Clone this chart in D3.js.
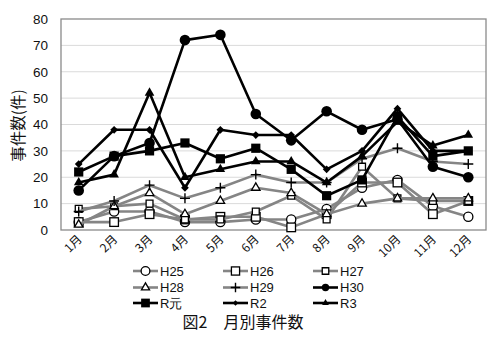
<!DOCTYPE html>
<html>
<head>
<meta charset="utf-8">
<script src="https://cdn.jsdelivr.net/npm/d3@7"></script>
<style>
  body { margin: 0; background: #fff; }
  svg { display: block; }
</style>
</head>
<body>
<svg id="chart" width="500" height="338"></svg>
<script>
// Monthly case counts by year (H25 … R3)
const months = ["1月","2月","3月","4月","5月","6月","7月","8月","9月","10月","11月","12月"];
const yTicks = [0, 10, 20, 30, 40, 50, 60, 70, 80];

const h25 = [3, 7, 7, 3, 3, 4, 4, 8, 16, 19, 9, 5];
const h26 = [3, 3, 6, 4, 5, 5, 1, 6, 18, 18, 6, 11];
const h27 = [8, 9, 10, 4, 4, 7, 13, 4, 24, 12, 11, 11];
const h28 = [2, 9, 14, 6, 11, 16, 14, 6, 10, 12, 12, 12];
const h29 = [7, 11, 17, 12, 16, 21, 18, 18, 27, 31, 26, 25];
const h30 = [15, 28, 33, 72, 74, 44, 34, 45, 38, 42, 24, 20];
const rGan = [22, 28, 30, 33, 27, 31, 23, 13, 19, 43, 28, 30];
const r2 = [25, 38, 38, 16, 38, 36, 36, 23, 30, 46, 30, 30];
const r3 = [18, 21, 52, 20, 23, 26, 26, 18, 28, 41, 32, 36];

const seriesNames = ["H25", "H26", "H27", "H28", "H29", "H30", "R元", "R2", "R3"];
const seriesValues = [h25, h26, h27, h28, h29, h30, rGan, r2, r3];

const GRAY = "#858585";
const BLACK = "#000";
const style = [
  { color: GRAY, marker: "circleOpen" },
  { color: GRAY, marker: "squareOpen" },
  { color: GRAY, marker: "diamondOpen" },
  { color: GRAY, marker: "triangleOpen" },
  { color: GRAY, marker: "plus" },
  { color: BLACK, marker: "circleFilled" },
  { color: BLACK, marker: "squareFilled" },
  { color: BLACK, marker: "diamondFilled" },
  { color: BLACK, marker: "triangleFilled" }
];

const svg = d3.select("#chart");
const plot = { left: 61, right: 486, top: 19, bottom: 230 };

const x = d3.scaleBand().domain(months).range([plot.left, plot.right]);
const y = d3.scaleLinear().domain([0, 80]).range([plot.bottom, plot.top]);
const cx = m => x(m) + x.bandwidth() / 2;

const latin = "'Liberation Sans', Arial, sans-serif";
const cjk = "'Noto Sans CJK JP', 'Noto Sans', sans-serif";

// horizontal grid
svg.append("g")
  .selectAll("line")
  .data(yTicks.filter(t => t > 0 && t < 80))
  .join("line")
  .attr("x1", plot.left).attr("x2", plot.right)
  .attr("y1", d => y(d)).attr("y2", d => y(d))
  .attr("stroke", "#dadada").attr("stroke-width", 1);

// plot frame
svg.append("rect")
  .attr("x", plot.left).attr("y", plot.top)
  .attr("width", plot.right - plot.left).attr("height", plot.bottom - plot.top)
  .attr("fill", "none").attr("stroke", "#8a8a8a").attr("stroke-width", 1.3);

// y axis
const yAxis = d3.axisLeft(y).tickValues(yTicks).tickSize(0).tickPadding(13);
const gy = svg.append("g").attr("transform", `translate(${plot.left},0)`).call(yAxis);
gy.select(".domain").remove();
gy.selectAll("text").attr("font-family", latin).attr("font-size", 13.5).attr("fill", "#111");

// x axis labels, rotated
const xAxis = d3.axisBottom(x).tickSize(0).tickPadding(0);
const gx = svg.append("g").attr("transform", `translate(0,${plot.bottom})`).call(xAxis);
gx.select(".domain").remove();
gx.selectAll("text")
  .attr("font-family", cjk).attr("font-size", 12).attr("fill", "#111")
  .attr("text-anchor", "end")
  .attr("dy", 0)
  .attr("transform", "translate(4,10) rotate(-45)");

// y axis title
svg.append("text")
  .attr("transform", `translate(24,${(plot.top + plot.bottom) / 2 + 1}) rotate(-90)`)
  .attr("text-anchor", "middle")
  .attr("font-family", cjk).attr("font-size", 15.5).attr("fill", "#111")
  .text("事件数(件)");

// marker drawing
function drawMarker(g, type, px, py, s) {
  const sw = 1.3;
  switch (type) {
    case "circleOpen":
      g.append("circle").attr("cx", px).attr("cy", py).attr("r", 4.6 * s)
        .attr("fill", "#fff").attr("stroke", "#000").attr("stroke-width", sw);
      break;
    case "squareOpen":
      g.append("rect").attr("x", px - 4.3 * s).attr("y", py - 4.3 * s)
        .attr("width", 8.6 * s).attr("height", 8.6 * s)
        .attr("fill", "#fff").attr("stroke", "#000").attr("stroke-width", sw);
      break;
    case "diamondOpen":
      g.append("path").attr("d", d3.symbol(d3.symbolDiamond2, 60 * s * s)())
        .attr("transform", `translate(${px},${py}) rotate(45)`)
        .attr("fill", "#fff").attr("stroke", "#000").attr("stroke-width", sw);
      break;
    case "triangleOpen":
      g.append("path").attr("d", d3.symbol(d3.symbolTriangle2, 52 * s * s)())
        .attr("transform", `translate(${px},${py})`)
        .attr("fill", "#fff").attr("stroke", "#000").attr("stroke-width", sw);
      break;
    case "plus":
      g.append("path")
        .attr("d", `M${px - 5 * s},${py}H${px + 5 * s}M${px},${py - 5 * s}V${py + 5 * s}`)
        .attr("stroke", "#000").attr("stroke-width", 1.4);
      break;
    case "circleFilled":
      g.append("circle").attr("cx", px).attr("cy", py).attr("r", 5.3 * s).attr("fill", "#000");
      break;
    case "squareFilled":
      g.append("rect").attr("x", px - 4.6 * s).attr("y", py - 4.6 * s)
        .attr("width", 9.2 * s).attr("height", 9.2 * s).attr("fill", "#000");
      break;
    case "diamondFilled":
      g.append("path").attr("d", d3.symbol(d3.symbolSquare, 30 * s * s)())
        .attr("transform", `translate(${px},${py}) rotate(45)`).attr("fill", "#000");
      break;
    case "triangleFilled":
      g.append("path").attr("d", d3.symbol(d3.symbolTriangle, 40 * s * s)())
        .attr("transform", `translate(${px},${py})`).attr("fill", "#000");
      break;
  }
}

// series lines + markers
const line = d3.line().x((d, i) => cx(months[i])).y(d => y(d));
const gSeries = svg.append("g");
seriesValues.forEach((vals, k) => {
  const g = gSeries.append("g");
  g.append("path").datum(vals).attr("d", line)
    .attr("fill", "none").attr("stroke", style[k].color)
    .attr("stroke-width", 2.6).attr("stroke-linejoin", "round");
  vals.forEach((v, i) => drawMarker(g, style[k].marker, cx(months[i]), y(v), 1));
});

// legend (3 x 3)
const legendCols = [133, 223, 313];
const legendRows = [271, 287.5, 303];
seriesNames.forEach((name, k) => {
  const lx = legendCols[k % 3];
  const ly = legendRows[Math.floor(k / 3)];
  const g = svg.append("g");
  g.append("line").attr("x1", lx).attr("x2", lx + 25).attr("y1", ly).attr("y2", ly)
    .attr("stroke", style[k].color).attr("stroke-width", 2.6);
  const small = ["circleFilled", "diamondFilled", "triangleFilled"].includes(style[k].marker);
  drawMarker(g, style[k].marker, lx + 12.5, ly, small ? 0.7 : 0.95);
  g.append("text").attr("x", lx + 27).attr("y", ly + 4.5)
    .attr("font-family", latin).attr("font-size", 13).attr("fill", "#111")
    .text(name);
});

// caption
svg.append("text")
  .attr("x", 243).attr("y", 328)
  .attr("text-anchor", "middle")
  .attr("font-family", cjk).attr("font-size", 16).attr("fill", "#111")
  .text("図2　月別事件数");
</script>
</body>
</html>
